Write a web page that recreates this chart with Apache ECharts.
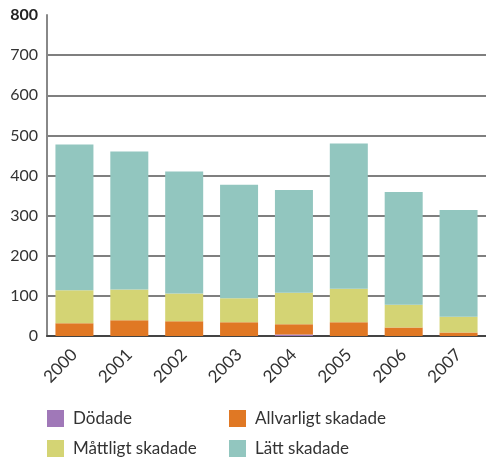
<!DOCTYPE html>
<html>
<head>
<meta charset="utf-8">
<script src="https://cdn.jsdelivr.net/npm/echarts@6/dist/echarts.min.js"></script>
<style>html,body{margin:0;padding:0;background:#fff}#c{width:486px;height:462px}</style>
</head>
<body>
<div id="c"></div>
<script>
var years = ['2000','2001','2002','2003','2004','2005','2006','2007'];
var dodade = [0, 0, 0, 0, 4, 0, 0, 0];
var allvarligt = [32, 39, 37, 34, 25, 34, 21, 9];
var mattligt = [82, 77, 69, 60, 79, 84, 57, 39];
var latt = [363, 344, 304, 283, 256, 362, 281, 266];
var yTicks = [0, 100, 200, 300, 400, 500, 600, 700, 800];

var names = ['Dödade', 'Allvarligt skadade', 'Måttligt skadade', 'Lätt skadade'];
var colors = ['#a078b8', '#e07824', '#d4d474', '#92c6bf'];
var values = [dodade, allvarligt, mattligt, latt];

var chart = echarts.init(document.getElementById('c'));
var font = 'Lato, "Open Sans", sans-serif';
var legendPos = [[47, 410], [229, 410], [47, 440], [229, 440]];
chart.setOption({
  animation: false,
  textStyle: {fontFamily: font},
  grid: {left: 47, top: 15, width: 439, height: 321, containLabel: false},
  legend: names.map(function (n, i) {
    return {
      data: [n], left: legendPos[i][0], top: legendPos[i][1],
      itemWidth: 17, itemHeight: 17, itemGap: 10, padding: 0,
      icon: 'rect',
      textStyle: {fontSize: 17, color: '#333', fontFamily: font, padding: [0, 0, 0, 4]}
    };
  }),
  xAxis: {
    type: 'category', data: years,
    axisLine: {lineStyle: {color: '#444', width: 2}},
    axisTick: {show: false},
    axisLabel: {rotate: 45, fontSize: 17, color: '#333', margin: 16, fontFamily: font}
  },
  yAxis: {
    type: 'value', min: 0, max: 800, interval: 100,
    axisLine: {show: true, lineStyle: {color: '#888', width: 2}},
    axisTick: {show: false},
    splitLine: {showMaxLine: false, lineStyle: {color: '#555', width: 1.5}},
    axisLabel: {
      fontSize: 16, color: '#333', margin: 9, fontFamily: font,
      formatter: function (v) { return v === 800 ? '{b|' + v + '}' : String(v); },
      rich: {b: {fontWeight: 'bold', fontSize: 16, color: '#222', fontFamily: font}}
    }
  },
  series: names.map(function (n, i) {
    return {
      name: n, type: 'bar', stack: 'total', data: values[i],
      barWidth: 38, itemStyle: {color: colors[i]}
    };
  })
});
</script>
</body>
</html>
